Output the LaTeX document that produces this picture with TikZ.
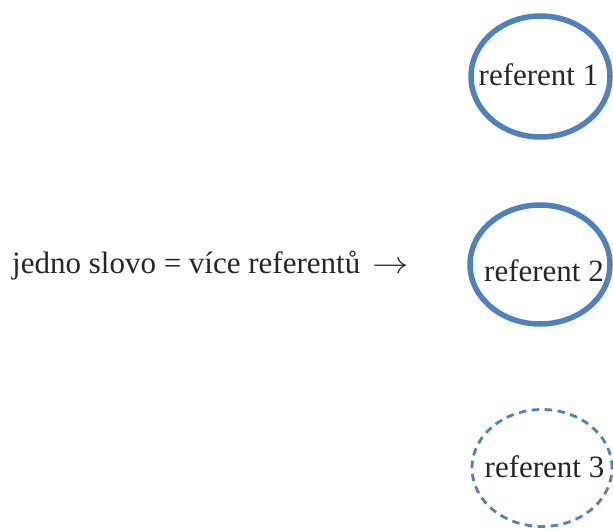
\RequirePackage{fix-cm}
\documentclass[tikz,border=0pt]{standalone}
\usepackage{fontspec}
\setmainfont{Liberation Serif}
\usetikzlibrary{shapes.geometric}
\definecolor{refblue}{HTML}{4F81BD}
\definecolor{inkgray}{HTML}{262626}
\tikzset{
  refring/.style={shape=ellipse, draw=refblue, line width=5.5pt, inner sep=0pt},
  refdash/.style={shape=ellipse, draw=refblue, line width=2.8pt, inner sep=0pt,
                  dash pattern=on 7.5pt off 5.5pt},
  word/.style={text=inkgray, inner sep=0pt, font=\fontsize{31}{37}\selectfont}
}
\newcommand{\pointer}{\scalebox{1.18}[1]{$\rightarrow$}}
\begin{document}
\begin{tikzpicture}[x=1pt,y=-1pt]
  \clip (0,0) rectangle (613,530);
  % three referents
  \node[refring, minimum width=139pt, minimum height=121pt] (e1) at (540.5,76.5) {};
  \node[refring, minimum width=140pt, minimum height=119pt] (e2) at (540,264.5) {};
  \node[refdash, minimum width=140pt, minimum height=117pt] (e3) at (542,468) {};
  \node[word, anchor=base] (r1) at (538.5,85) {referent 1};
  \node[word, anchor=base] (r2) at (544,281) {referent 2};
  \node[word, anchor=base] (r3) at (544.5,477) {referent 3};
  % the word pointing at its referents
  \node[word, anchor=base west] (w) at (12,273) {jedno slovo = více referentů\hspace{0.4em}\pointer};
\end{tikzpicture}
\end{document}
